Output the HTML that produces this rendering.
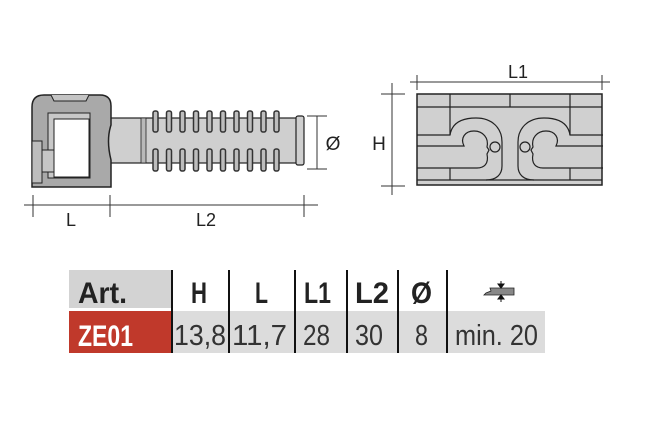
<!DOCTYPE html>
<html><head><meta charset="utf-8"><style>
html,body{margin:0;padding:0;background:#fff;width:647px;height:445px;overflow:hidden}
svg{display:block}
text{font-family:"Liberation Sans",Arial,sans-serif}
</style></head><body>
<svg width="647" height="445" viewBox="0 0 647 445" xmlns="http://www.w3.org/2000/svg">
<g stroke="#222" stroke-width="1.2">
  <rect x="108" y="118" width="190" height="45" fill="#cfcfcf"/>
  <rect x="296" y="116" width="8" height="49" rx="2" fill="#cfcfcf"/>
  <rect x="141" y="118" width="5" height="45" fill="#b8b8b8" stroke-width="0.8"/>
  <g fill="#bdbdbd" stroke="#333" stroke-width="1.5">
    <rect x="153" y="111" width="5" height="21" rx="2"/><rect x="153" y="149" width="5" height="22" rx="2"/>
    <rect x="166.5" y="111" width="5" height="21" rx="2"/><rect x="166.5" y="149" width="5" height="22" rx="2"/>
    <rect x="180" y="111" width="5" height="21" rx="2"/><rect x="180" y="149" width="5" height="22" rx="2"/>
    <rect x="193.5" y="111" width="5" height="21" rx="2"/><rect x="193.5" y="149" width="5" height="22" rx="2"/>
    <rect x="207" y="111" width="5" height="21" rx="2"/><rect x="207" y="149" width="5" height="22" rx="2"/>
    <rect x="220.5" y="111" width="5" height="21" rx="2"/><rect x="220.5" y="149" width="5" height="22" rx="2"/>
    <rect x="234" y="111" width="5" height="21" rx="2"/><rect x="234" y="149" width="5" height="22" rx="2"/>
    <rect x="247.5" y="111" width="5" height="21" rx="2"/><rect x="247.5" y="149" width="5" height="22" rx="2"/>
    <rect x="261" y="111" width="5" height="21" rx="2"/><rect x="261" y="149" width="5" height="22" rx="2"/>
    <rect x="274" y="111" width="5" height="21" rx="2"/><rect x="274" y="149" width="5" height="22" rx="2"/>
  </g>
  <path d="M44,95 L100,95 Q111,95 111,106 L111,125 Q106,140 111,160 L111,187 L32,187 L32,107 Q32,95 44,95 Z" fill="#a9a9a9" stroke-width="1.5"/>
  <path d="M51,95 L54,101 L86,101 L89,95" fill="#c4c4c4" stroke-width="1"/>
  <rect x="48" y="113" width="42" height="65" fill="#c8c8c8" stroke-width="1"/>
  <rect x="54" y="119" width="35" height="58" fill="#fff" stroke-width="1"/>
  <rect x="32" y="141" width="10" height="42" fill="#bdbdbd" stroke-width="1"/>
  <rect x="42" y="150" width="12" height="22" fill="#c6c6c6" stroke-width="1"/>
</g>
<g stroke="#333" stroke-width="1" fill="none">
  <line x1="24" y1="205" x2="318" y2="205"/>
  <line x1="33" y1="195" x2="33" y2="217"/>
  <line x1="110" y1="195" x2="110" y2="217"/>
  <line x1="304" y1="195" x2="304" y2="217"/>
  <line x1="317" y1="116" x2="317" y2="169"/>
  <line x1="307" y1="116" x2="327" y2="116"/>
  <line x1="307" y1="169" x2="327" y2="169"/>
</g>
<text x="71" y="226" font-size="18" text-anchor="middle" fill="#222">L</text>
<text x="206" y="226" font-size="18" text-anchor="middle" fill="#222">L2</text>
<text x="333" y="150" font-size="19" text-anchor="middle" fill="#222">Ø</text>

<g stroke="#222" stroke-width="1.2" fill="none">
  <rect x="417" y="94" width="185" height="91" fill="#d0d0d0" stroke-width="1.5"/>
  <line x1="417" y1="107" x2="602" y2="107"/>
  <line x1="417" y1="180" x2="602" y2="180"/>
  <line x1="450" y1="94" x2="450" y2="135"/>
  <line x1="510" y1="94" x2="510" y2="107"/>
  <line x1="570" y1="94" x2="570" y2="135"/>
  <line x1="450" y1="168" x2="450" y2="180"/>
  <line x1="570" y1="168" x2="570" y2="180"/>
  <g id="hk">
    <path d="M417,135 L450,135 C452,123 462,118 476,118 C492,118 502,128 502,142 L502,166 C502,175 496,180 486,180"/>
    <path d="M417,146 L464,146 C460,138 465,131 474,131 C483,131 489,138 487,147 L489,150 L487,154 C489,164 484,168 477,168 L417,168"/>
    <circle cx="495" cy="147" r="5"/>
  </g>
  <use href="#hk" transform="translate(1020,0) scale(-1,1)"/>
</g>
<g stroke="#333" stroke-width="1" fill="none">
  <line x1="410" y1="82" x2="610" y2="82"/>
  <line x1="417" y1="75" x2="417" y2="90"/>
  <line x1="602" y1="75" x2="602" y2="90"/>
  <line x1="392" y1="83" x2="392" y2="195"/>
  <line x1="381" y1="94" x2="405" y2="94"/>
  <line x1="381" y1="186" x2="405" y2="186"/>
</g>
<text x="518" y="78" font-size="18" text-anchor="middle" fill="#222">L1</text>
<text x="379" y="150" font-size="19" text-anchor="middle" fill="#222">H</text>

<rect x="69" y="270" width="103" height="38" fill="#d3d3d3"/>
<rect x="69" y="311" width="103" height="42" fill="#c0392b"/>
<rect x="172" y="311" width="373" height="42" fill="#dcdcdc"/>
<g stroke="#111" stroke-width="2">
  <line x1="172" y1="270" x2="172" y2="353"/>
  <line x1="229" y1="270" x2="229" y2="353"/>
  <line x1="295" y1="270" x2="295" y2="353"/>
  <line x1="347" y1="270" x2="347" y2="353"/>
  <line x1="398" y1="270" x2="398" y2="353"/>
  <line x1="447" y1="270" x2="447" y2="353"/>
</g>
<g font-weight="bold" font-size="30" fill="#222">
  <text x="78" y="303" textLength="49" lengthAdjust="spacingAndGlyphs">Art.</text>
  <text x="191" y="303" textLength="16" lengthAdjust="spacingAndGlyphs">H</text>
  <text x="255" y="303" textLength="13" lengthAdjust="spacingAndGlyphs">L</text>
  <text x="304" y="303" textLength="27" lengthAdjust="spacingAndGlyphs">L1</text>
  <text x="355" y="303" textLength="34" lengthAdjust="spacingAndGlyphs">L2</text>
  <text x="411" y="303" textLength="21" lengthAdjust="spacingAndGlyphs">Ø</text>
  <text x="78" y="346" fill="#fff" textLength="55" lengthAdjust="spacingAndGlyphs">ZE01</text>
</g>
<g font-size="29" fill="#333">
  <text x="174" y="345" textLength="52" lengthAdjust="spacingAndGlyphs">13,8</text>
  <text x="232" y="345" textLength="55" lengthAdjust="spacingAndGlyphs">11,7</text>
  <text x="303" y="345" textLength="27" lengthAdjust="spacingAndGlyphs">28</text>
  <text x="355" y="345" textLength="28" lengthAdjust="spacingAndGlyphs">30</text>
  <text x="415" y="345" textLength="13" lengthAdjust="spacingAndGlyphs">8</text>
  <text x="455" y="345" textLength="83" lengthAdjust="spacingAndGlyphs">min. 20</text>
</g>
<path d="M490,288 L514,288 L514,295 L484,295 L486,293 L491,291 Z" fill="#888" stroke="#222" stroke-width="0.8"/>
<g stroke="#111" stroke-width="1" fill="#111">
  <line x1="501" y1="281" x2="501" y2="288"/><path d="M498,284 L504,284 L501,288 Z"/>
  <line x1="501" y1="295" x2="501" y2="302"/><path d="M498,299 L504,299 L501,295 Z"/>
</g>
</svg>
</body></html>
